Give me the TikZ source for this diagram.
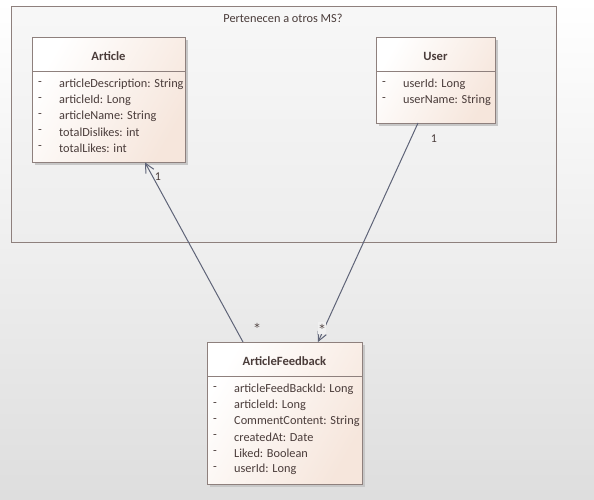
\documentclass[tikz,border=0pt]{standalone}
\usepackage{fontspec}
\setmainfont{Carlito}
\newfontfamily\starfont{DejaVu Sans}
\usetikzlibrary{arrows.meta,calc}
\definecolor{bdr}{HTML}{8E807D}
\definecolor{txt}{HTML}{4A3C3A}
\definecolor{peach}{HTML}{F6E6DC}
\definecolor{lnk}{HTML}{5F6478}
\tikzset{
  classbox/.style={draw=bdr, line width=1pt, rectangle, inner sep=0pt,
    shading=axis, left color=white, right color=peach, shading angle=60},
  shadowbox/.style={fill=black!22, draw=none},
  ctitle/.style={font=\fontsize{12.6}{15}\selectfont\bfseries, text=txt, inner sep=0pt},
  attr/.style={font=\fontsize{12.3}{15}\selectfont, text=txt, anchor=west, inner sep=0pt},
  dashmark/.style={font=\fontsize{12.3}{15}\selectfont, text=txt, inner sep=0pt},
  mult/.style={font=\fontsize{12}{14}\selectfont, text=txt, inner sep=1pt},
  star/.style={font=\starfont\fontsize{11}{13}\selectfont, text=txt, inner sep=1.5pt},
  assoc/.style={draw=lnk, line width=1pt, -{Straight Barb[length=9pt,width=9pt,line width=1pt]}},
}
\begin{document}
\begin{tikzpicture}[x=1pt,y=-1pt]
\shade[top color=white, bottom color=black!13] (0,0) rectangle (594,499);
\useasboundingbox (0,0) rectangle (594,499);
% frame
\node[draw=bdr, line width=1pt, minimum width=545pt, minimum height=236pt, inner sep=0pt,
  top color=white!97!black, bottom color=black!7] (frame) at (283.5,124) {};
\node[font=\fontsize{12.3}{15}\selectfont, text=txt, inner sep=0pt] (framelbl) at (283,18) {Pertenecen a otros MS?};
% Article
\fill[shadowbox] (35,40) rectangle (188,165);
\node[classbox, minimum width=153pt, minimum height=125pt] (article) at (108.5,99.5) {};
\draw[bdr, line width=0.8pt] (32,71) -- (185,71);
\node[ctitle] (articleT) at (108.5,56) {Article};
\foreach \y/\t [count=\i] in {84/articleDescription: String,100/articleId: Long,116/articleName: String,132/totalDislikes: int,148/totalLikes: int}{
  \node[dashmark] (articleD\i) at (40,\y) {-};
  \node[attr] (articleA\i) at (59,\y) {\t};
}
% User
\fill[shadowbox] (379,40) rectangle (498,126);
\node[classbox, minimum width=119pt, minimum height=86pt] (user) at (435.5,80) {};
\draw[bdr, line width=0.8pt] (376,71) -- (495,71);
\node[ctitle] (userT) at (435.5,56) {User};
\foreach \y/\t [count=\i] in {84/userId: Long,100/userName: String}{
  \node[dashmark] (userD\i) at (384,\y) {-};
  \node[attr] (userA\i) at (403,\y) {\t};
}
% ArticleFeedback
\fill[shadowbox] (210,345) rectangle (365,487);
\node[classbox, minimum width=155pt, minimum height=142pt] (af) at (284.5,413) {};
\draw[bdr, line width=0.8pt] (207,376) -- (362,376);
\node[ctitle] (afT) at (284.5,361) {ArticleFeedback};
\foreach \y/\t [count=\i] in {389/articleFeedBackId: Long,405/articleId: Long,421/CommentContent: String,437/createdAt: Date,453/Liked: Boolean,469/userId: Long}{
  \node[dashmark] (afD\i) at (215,\y) {-};
  \node[attr] (afA\i) at (234,\y) {\t};
}
% connectors
\coordinate (afL) at (243,342);
\coordinate (artB) at (145,162.5);
\coordinate (userB) at (418,123);
\coordinate (afR) at (318,342);
\draw[assoc] (afL) -- (artB);
\draw[assoc] (userB) -- (afR);
\node[mult] (m1) at (158,177) {1};
\node[star] (m2) at (257,327) {*};
\node[mult] (m3) at (434,139) {1};
\node[star, fill=black!6] (m4) at (322,328) {*};
\end{tikzpicture}
\end{document}
